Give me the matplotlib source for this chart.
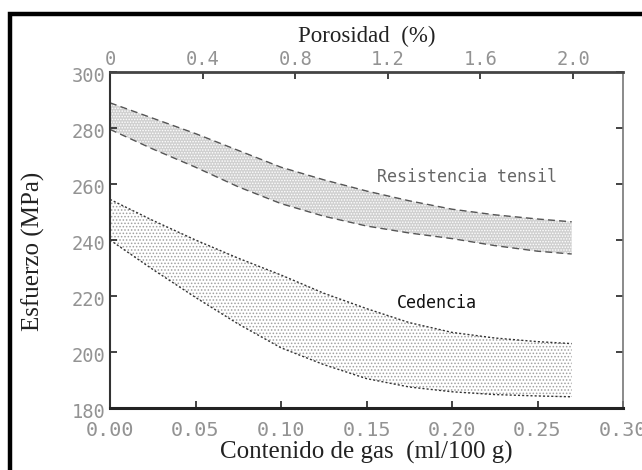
import matplotlib.pyplot as plt
import matplotlib.transforms as mtransforms
from matplotlib.patches import Rectangle

# gas content (ml/100 g) where the band limits were taken
gas = [0.0, 0.025, 0.05, 0.075, 0.10, 0.125, 0.15, 0.175, 0.20, 0.225, 0.25, 0.27]

# tensile strength band (MPa)
tensil_sup = [289, 283.5, 278, 272, 266, 261.5, 257.5, 254, 251, 249, 247.5, 246.5]
tensil_inf = [279.5, 272.5, 266, 259, 253, 248.5, 245, 242.5, 240.5, 238, 236, 235]

# yield strength band (MPa)
ced_sup = [254.5, 247, 240, 233.5, 227.5, 221, 215.5, 210.5, 207, 205, 203.7, 203]
ced_inf = [240, 229.5, 219.5, 210, 201.5, 195.5, 190.5, 187.5, 185.8, 184.8, 184.3, 184]

x_ticks = [0.00, 0.05, 0.10, 0.15, 0.20, 0.25, 0.30]
y_ticks = [180, 200, 220, 240, 260, 280, 300]
por_ticks = [0, 0.4, 0.8, 1.2, 1.6, 2.0]
por_labels = ['0', '0.4', '0.8', '1.2', '1.6', '2.0']

# porosity (%) corresponding to the end of the gas scale
gas_por = 2.0 / 0.2708

serif = 'Liberation Serif'
mono = 'DejaVu Sans Mono'
tick_col = '#939393'

plt.rcParams['hatch.linewidth'] = 0.7

fig = plt.figure(figsize=(6.42, 4.70), dpi=100)
ax = fig.add_axes([110 / 642, 62 / 470, 513 / 642, 336 / 470])

ax.fill_between(gas, tensil_inf, tensil_sup, facecolor='#d0d0d0',
                edgecolor='white', hatch='......', linewidth=0)
ax.plot(gas, tensil_sup, color='#555555', lw=1.0, ls=(0, (5, 3)))
ax.plot(gas, tensil_inf, color='#555555', lw=1.0, ls=(0, (5, 3)))

ax.fill_between(gas, ced_inf, ced_sup, facecolor='white',
                edgecolor='#a0a0a0', hatch='.....', linewidth=0)
ax.plot(gas, ced_sup, color='#333333', lw=1.0, ls=(0, (1.5, 1.5)))
ax.plot(gas, ced_inf, color='#333333', lw=1.0, ls=(0, (1.5, 1.5)))

ax.text(0.2088, 262.5, 'Resistencia tensil', family=mono, fontsize=12,
        color='#666666', ha='center', va='center')
ax.text(0.191, 217.5, 'Cedencia', family=mono, fontsize=12,
        color='#111111', ha='center', va='center')

ax.set_xlim(0, 0.30)
ax.set_ylim(180, 300)
ax.set_xticks(x_ticks)
ax.set_xticklabels(['%.2f' % v for v in x_ticks])
ax.set_yticks(y_ticks)
ax.tick_params(direction='in', length=5, width=1.2, color='#222222',
               labelcolor=tick_col, right=True)
ax.tick_params(axis='x', labelsize=14.5, pad=9)
ax.tick_params(axis='y', labelsize=13.5, pad=3)
for lab in ax.get_xticklabels() + ax.get_yticklabels():
    lab.set_family(mono)
# y labels sit a little below their ticks
shift = mtransforms.ScaledTranslation(0, -2 / 100, fig.dpi_scale_trans)
for lab in ax.get_yticklabels():
    lab.set_transform(lab.get_transform() + shift)

ax.spines['left'].set_linewidth(1.5)
ax.spines['left'].set_color('#333333')
ax.spines['bottom'].set_linewidth(2.2)
ax.spines['bottom'].set_color('#222222')
ax.spines['top'].set_linewidth(2.0)
ax.spines['top'].set_color('#444444')
ax.spines['right'].set_linewidth(1.2)
ax.spines['right'].set_color('#777777')

top = ax.secondary_xaxis('top', functions=(lambda g: g * gas_por,
                                            lambda p: p / gas_por))
top.set_xticks(por_ticks)
top.set_xticklabels(por_labels)
top.tick_params(direction='in', length=5, width=1.2, color='#222222',
                labelsize=13.5, labelcolor=tick_col, pad=2)
for lab in top.get_xticklabels():
    lab.set_family(mono)
top.spines['top'].set_visible(False)

ax.set_xlabel('Contenido de gas  (ml/100 g)', family=serif, fontsize=18,
              color='#222222', labelpad=1)
ax.set_ylabel('Esfuerzo (MPa)', family=serif, fontsize=18,
              color='#222222')
ax.yaxis.set_label_coords(-0.126, 0.465)
top.set_xlabel('Porosidad  (%)', family=serif, fontsize=16.5,
               color='#222222', labelpad=6)

# outer frame of the figure
fig.patches.append(Rectangle((10 / 642, -0.05), 1.2, (470 - 13.5) / 470 + 0.05,
                             transform=fig.transFigure, fill=False,
                             edgecolor='black', linewidth=3.2))

fig.savefig('out.png', dpi=100)
